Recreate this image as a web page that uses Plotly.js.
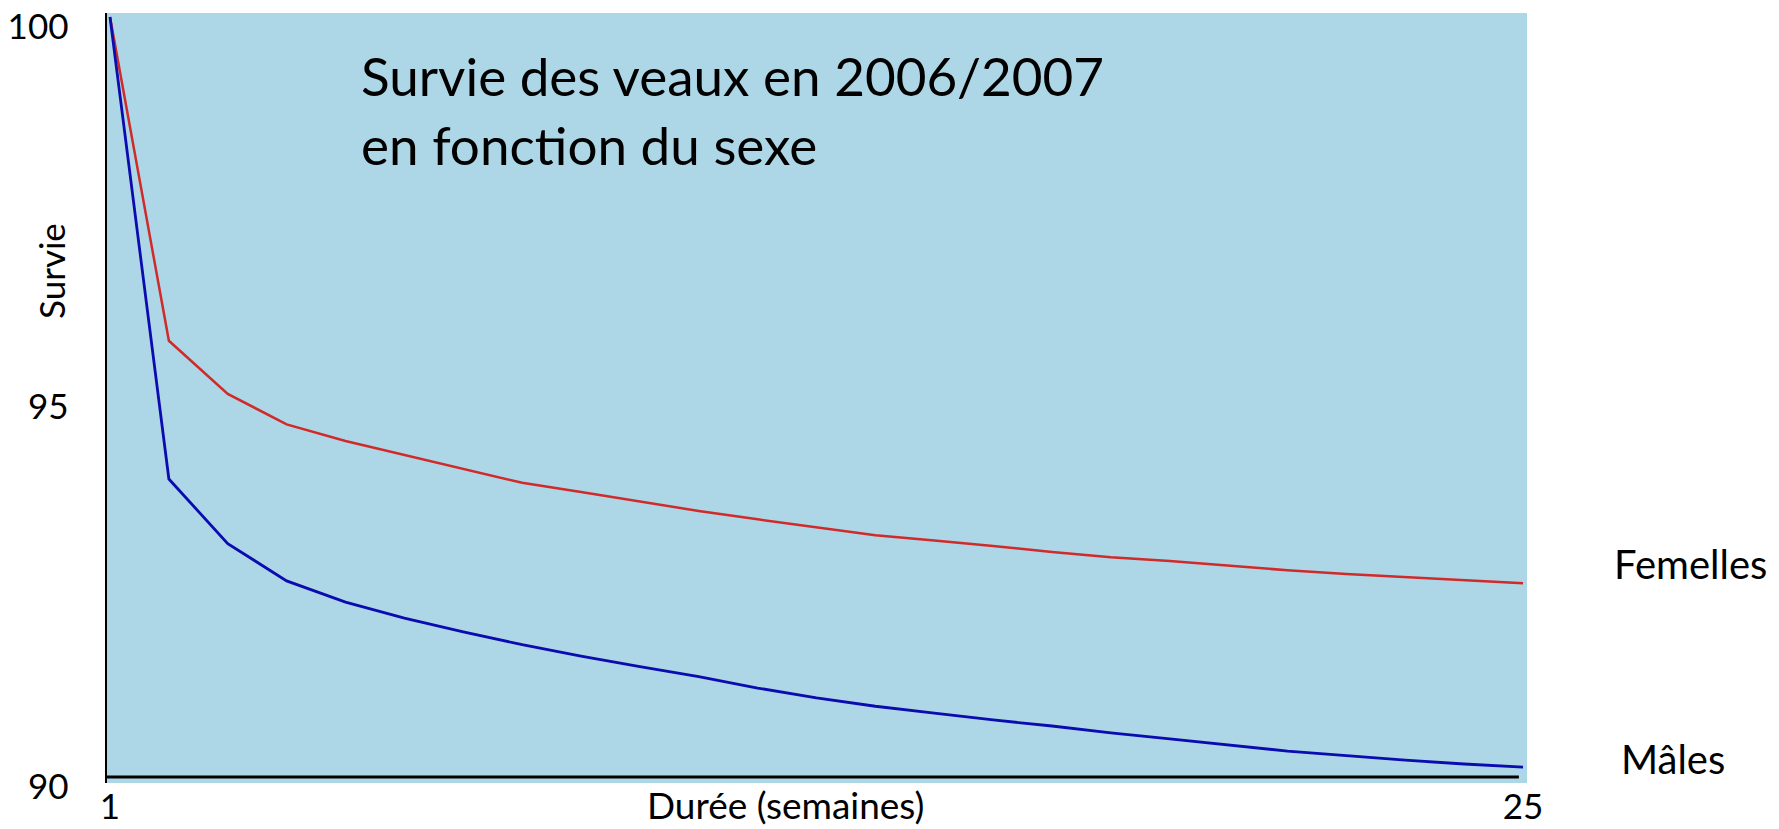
<!DOCTYPE html>
<html>
<head>
<meta charset="utf-8">
<script src="https://cdn.plot.ly/plotly-3.0.1.min.js"></script>
<style>html,body{margin:0;padding:0;background:#fff;}#chart{width:1779px;height:829px;}</style>
</head>
<body>
<div id="chart"></div>
<script>
// Data
const weeks = [1, 2, 3, 4, 5, 6, 7, 8, 9, 10, 11, 12, 13, 14, 15, 16, 17, 18, 19, 20, 21, 22, 23, 24, 25];
const femelles = [100, 95.74, 95.04, 94.64, 94.42, 94.24, 94.05, 93.87, 93.75, 93.62, 93.50, 93.39, 93.29, 93.18, 93.11, 93.04, 92.96, 92.89, 92.84, 92.78, 92.72, 92.67, 92.63, 92.59, 92.55];
const males = [100, 93.92, 93.07, 92.58, 92.30, 92.09, 91.91, 91.74, 91.59, 91.45, 91.32, 91.17, 91.04, 90.93, 90.84, 90.75, 90.67, 90.58, 90.50, 90.42, 90.34, 90.28, 90.22, 90.17, 90.13];
const xTickVals = [1, 25];
const xTickText = ["1", "25"];
const yTickVals = [90, 95, 100];
const yTickText = ["90", "95", "100"];
const seriesNames = ["Femelles", "Mâles"];
const titleText = "Survie des veaux en 2006/2007<br>en fonction du sexe";
const xTitle = "Durée (semaines)";
const yTitle = "Survie";

const FONT = "Lato, 'Open Sans', sans-serif";

const traces = [
  {x: weeks, y: femelles, name: seriesNames[0], type: "scatter", mode: "lines",
   line: {color: "#D02A2A", width: 2.5}, showlegend: false},
  {x: weeks, y: males, name: seriesNames[1], type: "scatter", mode: "lines",
   line: {color: "#0B0BB0", width: 2.8}, showlegend: false}
];

const layout = {
  width: 1779, height: 829,
  margin: {l: 107, r: 252, t: 13, b: 46, pad: 0},
  paper_bgcolor: "#ffffff",
  plot_bgcolor: "#ADD7E6",
  font: {family: FONT, color: "#000000"},
  title: {
    text: titleText,
    font: {family: FONT, size: 53, color: "#000000"},
    xref: "container", x: 361 / 1779, xanchor: "left",
    yref: "container", y: 1 - 96 / 829, yanchor: "top"
  },
  xaxis: {
    range: [0.949, 25.068],
    tickmode: "array", tickvals: xTickVals, ticktext: xTickText,
    ticks: "", showgrid: false, zeroline: false, showline: false,
    tickfont: {family: FONT, size: 35, color: "#000000"},
    fixedrange: true
  },
  yaxis: {
    range: [89.92, 100.053],
    tickmode: "array", tickvals: yTickVals, ticktext: yTickText,
    ticks: "", showgrid: false, zeroline: false,
    showline: true, linecolor: "#000000", linewidth: 2.5,
    ticklabelstandoff: 29,
    ticklabelshift: 10,
    ticklabeloverflow: "allow",
    tickfont: {family: FONT, size: 35, color: "#000000"},
    fixedrange: true
  },
  shapes: [
    {type: "line", xref: "x", yref: "y", x0: 0.949, x1: 24.93, y0: 90, y1: 90,
     line: {color: "#000000", width: 3}}
  ],
  annotations: [
    {text: yTitle, xref: "paper", yref: "paper", x: (51 - 107) / 1420, y: (783 - 271) / 770,
     xanchor: "center", yanchor: "middle", textangle: -90, showarrow: false,
     font: {family: FONT, size: 35, color: "#000000"}},
    {text: xTitle, xref: "paper", yref: "paper", x: (785 - 107) / 1420, y: (783 - 805) / 770,
     xanchor: "center", yanchor: "middle", showarrow: false,
     font: {family: FONT, size: 37, color: "#000000"}},
    {text: seriesNames[0], xref: "paper", yref: "paper", x: (1612 - 107) / 1420, y: (783 - 564) / 770,
     xanchor: "left", yanchor: "middle", showarrow: false,
     font: {family: FONT, size: 40, color: "#000000"}},
    {text: seriesNames[1], xref: "paper", yref: "paper", x: (1619 - 107) / 1420, y: (783 - 759) / 770,
     xanchor: "left", yanchor: "middle", showarrow: false,
     font: {family: FONT, size: 40, color: "#000000"}}
  ]
};

Plotly.newPlot("chart", traces, layout, {displayModeBar: false, staticPlot: true});
</script>
</body>
</html>
